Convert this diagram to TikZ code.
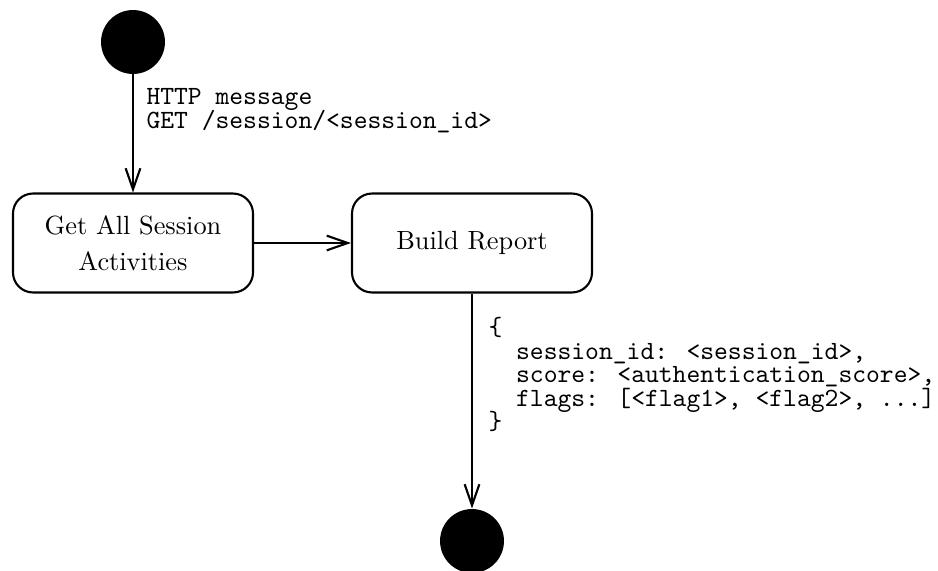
\documentclass[tikz,border=0pt]{standalone}
\usepackage{fontspec}
\usetikzlibrary{arrows.meta}
\begin{document}
\begin{tikzpicture}[
  x=0.38pt, y=-0.38pt,
  pseudo/.style={circle, fill=black, minimum size=24.3pt, inner sep=0pt},
  activity/.style={draw, line width=0.8pt, rounded corners=7.6pt,
    minimum width=91.2pt, minimum height=37.6pt, inner sep=0pt,
    align=center, font=\fontsize{10pt}{13.7pt}\selectfont},
  flow/.style={draw, line width=0.8pt, -{Straight Barb[length=8pt,width=5.6pt]}},
  code/.style={font={\ttfamily\fontsize{10pt}{8.9pt}\selectfont\lineskiplimit=-20pt},
    align=left, inner sep=0pt, anchor=north west}
]
\useasboundingbox (0,0) rectangle (938,571);

% states
\node[pseudo] (start) at (133,42) {};
\node[activity] (fetch) at (133,243) {Get All Session\\Activities};
\node[activity] (report) at (472,243) {Build Report};
\node[pseudo] (stop) at (472,541) {};

% transitions
\draw[flow] (start) -- (fetch);
\draw[flow] (fetch) -- (report);
\draw[flow] (report) -- (stop);

% transition labels
\node[code] (request) at (146,88) {HTTP message\\GET /session/<session\_id>};
\node[code] (result) at (488,317) {\{\\
\ \ session\_id: <session\_id>,\\
\ \ score: <authentication\_score>,\\
\ \ flags: [<flag1>, <flag2>, ...]\\
\}};
\end{tikzpicture}
\end{document}
